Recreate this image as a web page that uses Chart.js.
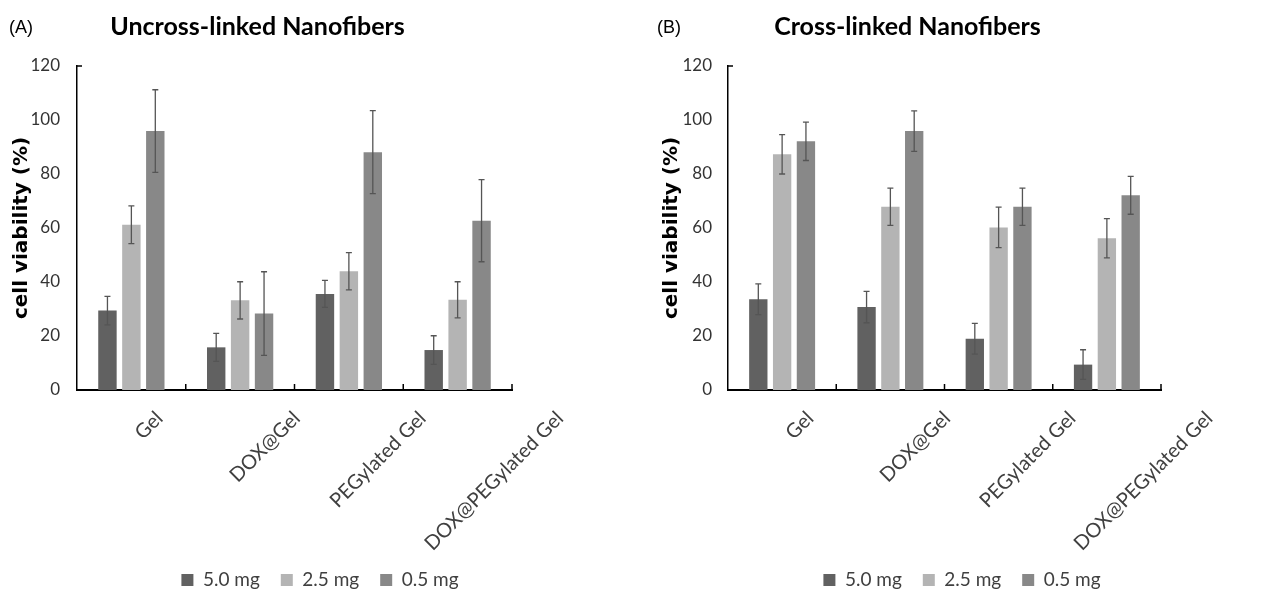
<!DOCTYPE html>
<html lang="en">
<head>
<meta charset="UTF-8" />
<title>Cell viability of nanofibers</title>
<script src="https://cdn.jsdelivr.net/npm/chart.js"></script>
<style>
  html, body { margin: 0; padding: 0; background: #fff; overflow: hidden; }
  #wrapA { position: absolute; left: 0; top: 0; width: 640px; height: 593px; }
  #wrapB { position: absolute; left: 640px; top: 0; width: 644px; height: 593px; }
</style>
</head>
<body>
<div id="wrapA"><canvas id="chartA" width="640" height="593"></canvas></div>
<div id="wrapB"><canvas id="chartB" width="644" height="593"></canvas></div>

<script>
const GROUPS = ["Gel", "DOX@Gel", "PEGylated Gel", "DOX@PEGylated Gel"];
const DOSES = ["5.0 mg", "2.5 mg", "0.5 mg"];
const Y_TICKS = [0, 20, 40, 60, 80, 100, 120];
const COLORS = ["#616161", "#b4b4b4", "#888888"];

// (A) uncross-linked nanofibers, mean and error
const unc5 = [29.4, 15.8, 35.6, 14.8];
const unc25 = [61.2, 33.2, 44.0, 33.4];
const unc05 = [95.9, 28.3, 88.1, 62.7];
const unc5Err = [5.3, 5.2, 5.0, 5.3];
const unc25Err = [7.0, 6.9, 6.9, 6.7];
const unc05Err = [15.3, 15.5, 15.4, 15.2];

// (B) cross-linked nanofibers
const cro5 = [33.6, 30.7, 19.0, 9.4];
const cro25 = [87.3, 67.9, 60.2, 56.2];
const cro05 = [92.1, 95.9, 67.9, 72.1];
const cro5Err = [5.7, 5.8, 5.7, 5.5];
const cro25Err = [7.3, 6.9, 7.5, 7.3];
const cro05Err = [7.1, 7.5, 6.9, 7.0];

// error bars, drawn from the y scale
const errorBars = {
  id: "errorBars",
  afterDatasetsDraw(chart) {
    const ctx = chart.ctx;
    const y = chart.scales.y;
    ctx.save();
    ctx.strokeStyle = "#555";
    ctx.lineWidth = 1.3;
    chart.data.datasets.forEach((ds, d) => {
      chart.getDatasetMeta(d).data.forEach((bar, i) => {
        const top = y.getPixelForValue(ds.data[i] + ds.errors[i]);
        const bot = y.getPixelForValue(ds.data[i] - ds.errors[i]);
        ctx.beginPath();
        ctx.moveTo(bar.x, top);
        ctx.lineTo(bar.x, bot);
        ctx.moveTo(bar.x - 3, top);
        ctx.lineTo(bar.x + 3, top);
        ctx.moveTo(bar.x - 3, bot);
        ctx.lineTo(bar.x + 3, bot);
        ctx.stroke();
      });
    });
    ctx.restore();
  },
};

// inside tick marks, excel style
const axisMarks = {
  id: "axisMarks",
  afterDraw(chart) {
    const { ctx, chartArea: a } = chart;
    const x = chart.scales.x;
    ctx.save();
    ctx.strokeStyle = "#000";
    ctx.lineWidth = 1.5;
    ctx.beginPath();
    for (let i = 1; i <= chart.data.labels.length; i++) {
      const px = x.getPixelForValue(i - 0.5);
      ctx.moveTo(px, a.bottom);
      ctx.lineTo(px, a.bottom - 6);
    }
    ctx.moveTo(a.left, a.top);
    ctx.lineTo(a.left + 5, a.top);
    ctx.stroke();
    ctx.restore();
  },
};

// slanted category labels
const slantLabels = {
  id: "slantLabels",
  afterDraw(chart) {
    const ctx = chart.ctx;
    const x = chart.scales.x;
    ctx.save();
    ctx.font = "20px Lato";
    ctx.fillStyle = "#404040";
    ctx.textAlign = "right";
    ctx.textBaseline = "middle";
    chart.data.labels.forEach((lab, i) => {
      const w = ctx.measureText(lab).width;
      ctx.save();
      ctx.translate(x.getPixelForValue(i) + 14 + 0.474 * w, x.top + 25);
      ctx.rotate(-Math.PI / 4);
      ctx.fillText(lab, 0, 0);
      ctx.restore();
    });
    ctx.restore();
  },
};

// panel letter + heading
const panelHeader = {
  id: "panelHeader",
  afterDraw(chart, args, opts) {
    const { ctx, chartArea: a } = chart;
    ctx.save();
    ctx.fillStyle = "#000";
    ctx.textBaseline = "alphabetic";
    ctx.textAlign = "left";
    ctx.font = '18px "Liberation Sans"';
    ctx.fillText(opts.letter, opts.letterX, 33);
    ctx.textAlign = "center";
    ctx.font = "bold 25px Lato";
    ctx.fillText(opts.title, (a.left + a.right) / 2 - 37, 35);
    ctx.restore();
  },
};

function makeChart(id, series, errs, opt) {
  const datasets = DOSES.map((name, k) => ({
    label: name,
    data: series[k],
    errors: errs[k],
    backgroundColor: COLORS[k],
    borderWidth: 0,
    categoryPercentage: 0.66,
    barPercentage: 0.77,
  }));

  return new Chart(document.getElementById(id), {
    type: "bar",
    data: { labels: GROUPS, datasets: datasets },
    plugins: [errorBars, axisMarks, slantLabels, panelHeader],
    options: {
      responsive: false,
      animation: false,
      layout: { padding: { top: 66, bottom: -6.5, left: 0, right: 0 } },
      scales: {
        x: {
          grid: { display: false, drawTicks: false },
          border: { color: "#000", width: 2 },
          ticks: { display: false },
          afterFit: (s) => { s.height = 159.5; },
        },
        y: {
          min: 0,
          max: 120,
          afterBuildTicks: (s) => { s.ticks = Y_TICKS.map((v) => ({ value: v })); },
          grid: { display: false, drawTicks: false },
          border: { color: "#000", width: 1.5 },
          ticks: { padding: opt.tickPad, color: "#333", font: { family: "Lato", size: 17 } },
          title: {
            display: true,
            text: "cell viability (%)",
            color: "#000",
            font: { family: "DejaVu Sans", weight: "bold", size: 20 },
            padding: { top: opt.titlePad, bottom: 0 },
          },
          afterFit: (s) => { s.width = opt.left; },
        },
        pad: {
          type: "linear",
          position: "right",
          grid: { display: false, drawTicks: false },
          border: { display: false },
          ticks: { display: false },
          afterFit: (s) => { s.width = opt.right; },
        },
      },
      plugins: {
        legend: {
          position: "bottom",
          labels: {
            boxWidth: 12,
            boxHeight: 12,
            padding: 21,
            color: "#404040",
            font: { family: "Lato", size: 19 },
          },
        },
        tooltip: { enabled: false },
        panelHeader: { letter: opt.letter, letterX: opt.letterX, title: opt.title },
      },
    },
  });
}

makeChart("chartA", [unc5, unc25, unc05], [unc5Err, unc25Err, unc05Err], {
  left: 77, right: 128, tickPad: 17, titlePad: 10,
  letter: "(A)", letterX: 9, title: "Uncross-linked Nanofibers",
});

makeChart("chartB", [cro5, cro25, cro05], [cro5Err, cro25Err, cro05Err], {
  left: 88, right: 123, tickPad: 16, titlePad: 20,
  letter: "(B)", letterX: 17, title: "Cross-linked Nanofibers",
});
</script>
</body>
</html>
